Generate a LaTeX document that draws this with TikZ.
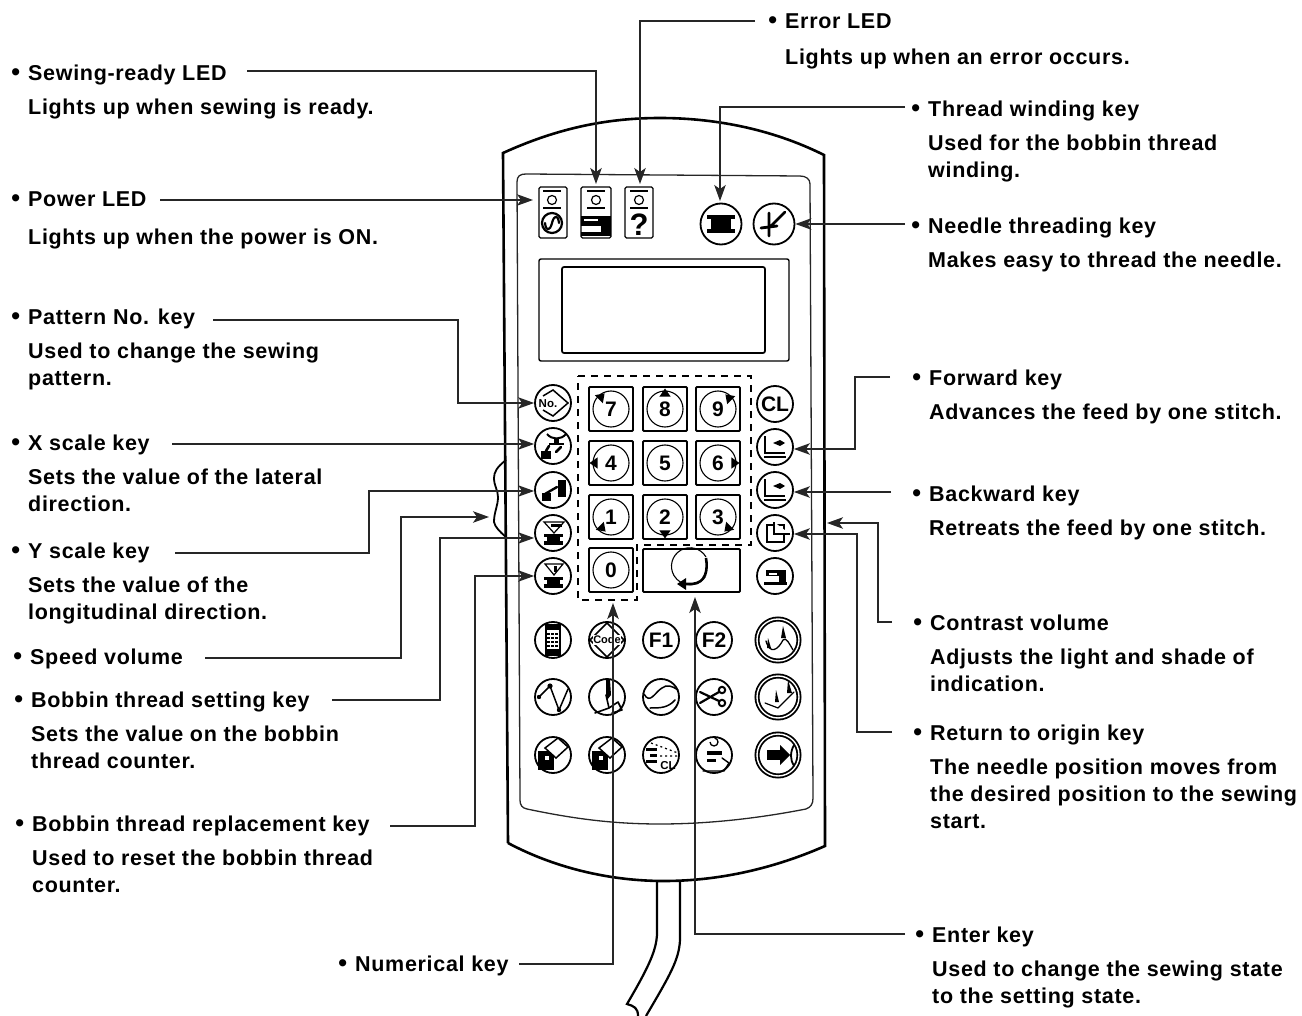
\documentclass[tikz,border=0pt]{standalone}
\usepackage{fontspec}
\setmainfont{Liberation Sans}
\newfontfamily\lblfam[LetterSpace=3.2]{Liberation Sans}
\usetikzlibrary{arrows.meta,calc,shapes.geometric}
\newcommand\lblfont{\fontsize{21.5}{27}\lblfam\bfseries}
\newcommand\hd[1]{\llap{\raisebox{-.5pt}{\fontsize{25}{25}\selectfont\textbullet}\hspace{8pt}}#1}
\newcommand\sep{\\[7pt]}
\tikzset{
 lbl/.style={anchor=north west,inner sep=0pt,align=left,font=\lblfont,yshift=-1.5pt,execute at begin node={\rule{0pt}{19pt}}},
 conn/.style={draw=black!85,line width=1.2pt,-{Stealth[length=16pt,width=11.5pt,inset=4pt]},line join=miter},
 body/.style={draw=black,line width=2.6pt},
 panel/.style={draw=black!85,line width=1.3pt},
 key/.style={circle,draw=black,line width=1.8pt,minimum size=36pt,inner sep=0pt,font=\fontsize{15}{15}\selectfont\bfseries},
 bigkey/.style={key,double,double distance=1.4pt,minimum size=42pt},
 numbox/.style={rectangle,draw=black,line width=1.8pt,rounded corners=1pt,minimum size=44pt,inner sep=0pt},
 numkey/.style={circle,draw=black,line width=1.1pt,minimum size=36pt,inner sep=0pt,font=\fontsize{21}{21}\selectfont\bfseries},
 ledbox/.style={rectangle,draw=black,line width=1.3pt,rounded corners=1.5pt,inner sep=0pt},
 ic/.style={line width=1.6pt,line cap=round,line join=round},
}
\newcommand\tri[3]{\fill[black] (#1,#2) ++(#3:6.5) -- ++(#3+145:10) -- ++(#3-90:11.4) -- cycle;}
\begin{document}
\begin{tikzpicture}[x=1pt,y=-1pt]
\useasboundingbox (0,0) rectangle (1302,1016);
% ---------- unit body
\draw[body] (508,843) -- (503,153) .. controls (560,127) and (610,118) .. (660,118) .. controls (712,118) and (770,128) .. (824,155) -- (825,846) .. controls (775,868) and (720,881) .. (664,881) .. controls (610,881) and (555,868) .. (508,843);
\draw[panel] (517,182) .. controls (517,176) and (520,174) .. (526,174) -- (800,176) .. controls (806,176) and (810,179) .. (810,184) -- (813,798) .. controls (813,804) and (811,807) .. (806,809) .. controls (760,818) and (710,824) .. (660,824) .. controls (610,824) and (570,818) .. (527,809) .. controls (522,808) and (520,805) .. (520,800) -- cycle;
% cable
\draw[body,line width=2.2pt] (657,881) -- (657,935) .. controls (656,950) and (650,965) .. (627,1004) .. controls (634,1006) and (638,1008) .. (638,1016);
\draw[body,line width=2.2pt] (680,881) -- (680,940) .. controls (679,960) and (670,975) .. (646,1016);
% bracket
\draw[body,line width=1.8pt] (506,460) .. controls (497,467) and (494,472) .. (494,478) .. controls (494,486) and (498,490) .. (498,497) .. controls (498,506) and (494,512) .. (494,522) .. controls (495,527) and (500,532) .. (506,537);
% ---------- LEDs
\node[ledbox,minimum width=28pt,minimum height=51pt] (led1) at (553,212.5) {};
\node[ledbox,minimum width=30pt,minimum height=51pt] (led2) at (596,212.5) {};
\node[ledbox,minimum width=28pt,minimum height=51pt] (led3) at (639,212.5) {};
\foreach \lx in {552,596,639}{
 \draw[line width=1.2pt] (\lx,200) circle (4.5);
 \draw[line width=1.1pt] (\lx-9,191) -- (\lx+9,191) (\lx-9,208) -- (\lx+9,208);
}
\draw[line width=2.2pt] (552,223) circle (10);
\draw[ic,line width=2.2pt] (545,223) .. controls (546,232) and (550,231) .. (552,223) .. controls (554,215) and (558,214) .. (559,223);
\fill (581,216) rectangle (611,226); \fill (601,226) rectangle (611,232); \fill (581,232) rectangle (611,236);
\fill[white] (584,219) rectangle (598,221);
\node[inner sep=0pt,font=\fontsize{31}{31}\selectfont\bfseries] (qm) at (639,225) {?};
% top round keys
\node[key,minimum size=41pt] (wind) at (721,224) {};
\node[key,minimum size=41pt] (needle) at (774,224) {};
\fill (707,215) rectangle (735,219); \fill (707,229) rectangle (735,233); \fill (711,219) rectangle (731,229);
\draw[ic,line width=2.8pt] (769,213) -- (769,236) (761,228) -- (777,226) (771,226) -- (785,212);
% display
\node[rectangle,draw=black,line width=1.4pt,rounded corners=2pt,minimum width=250pt,minimum height=102pt] (disp) at (664,310) {};
\node[rectangle,draw=black,line width=1.7pt,rounded corners=2pt,minimum width=203pt,minimum height=86pt] (screen) at (663.5,310) {};
% ---------- left key column
\node[key] (kno) at (553,403) {};
\node[key] (kx) at (553,446) {};
\node[key] (ky) at (553,490) {};
\node[key] (kb) at (553,533) {};
\node[key] (kr) at (553,576) {};
\draw[line width=1.5pt] (543,396) -- (553,390) -- (568,403) -- (553,416) -- (543,410);
\node[inner sep=0pt,font=\fontsize{11.5}{11.5}\selectfont\bfseries] (noT) at (548,404) {No.};
\draw[line width=2pt] (547,434) .. controls (552,440) and (561,440) .. (566,434); \fill (554,438) rectangle (559,443); \fill (549,443) rectangle (564,445);
\fill (541,451) rectangle (551,459); \draw[ic,line width=2.6pt] (546,451) -- (549,446) (556,452) -- (561,447);
\fill (558,480) rectangle (566,497); \draw[ic,line width=2.4pt] (545,494) -- (557,487); \fill (542,493) rectangle (551,501);
\draw[line width=1.2pt] (544,522) -- (564,522) -- (554,533) -- cycle; \fill (551,524) rectangle (562,527); \fill (544,534) rectangle (563,537); \fill (547,537) rectangle (560,541); \fill (544,541) rectangle (563,545);
\draw[line width=1.2pt] (545,564) -- (563,564) -- (554,575) -- cycle; \fill (554,566) rectangle (557,572); \fill (544,577) rectangle (563,580); \fill (547,580) rectangle (560,584); \fill (544,584) rectangle (563,588);
% ---------- right key column
\node[key,font=\fontsize{21}{21}\selectfont\bfseries] (kcl) at (775,404) {CL};
\node[key] (kf) at (775,447) {};
\node[key] (kbk) at (775,490) {};
\node[key] (ko) at (775,533) {};
\node[key] (kcs) at (775,576) {};
\foreach \ky in {447,490}{
 \draw[line width=2.4pt] (765,\ky-11) -- (765,\ky+6) -- (785,\ky+6);
 \draw[line width=1.1pt] (764,\ky+10) -- (786,\ky+10);
 \fill (773,\ky-4) -- (780,\ky-7) -- (785,\ky-4) -- (780,\ky-1) -- cycle;
}
\draw[line width=2pt] (767,525) rectangle (784,542);
\draw[line width=1.4pt,fill=white] (774,522) -- (774,534) -- (790,534);
\fill (766,570) rectangle (786,576); \fill (779,576) rectangle (786,582); \fill (764,582) rectangle (787,585); \fill[white] (769,573) rectangle (777,575);
% ---------- keypad
\draw[line width=1.4pt,dash pattern=on 7pt off 6pt] (578,376) -- (751,376) -- (751,545) -- (637,545) -- (637,600) -- (578,600) -- cycle;
\foreach \n/\x/\y in {7/611/409,8/665/409,9/718/409,4/611/463,5/665/463,6/718/463,1/611/517,2/665/517,3/718/517,0/611/570}{
 \node[numbox] (box\n) at (\x,\y) {};
 \node[numkey] (num\n) at (\x,\y) {\n};
}
\tri{600}{398}{-45}\tri{665}{395}{-90}\tri{730}{399}{-135}
\tri{596}{463}{180}\tri{733}{463}{0}
\tri{601}{527}{45}\tri{665}{532}{90}\tri{729}{527}{135}
\node[rectangle,draw=black,line width=1.8pt,rounded corners=1pt,minimum width=97pt,minimum height=43pt] (enter) at (691.5,570.5) {};
\draw[line width=2.6pt] (706,558) .. controls (708,570) and (706,583) .. (692,584) -- (682,584);
\fill (677,584) -- (686,578) -- (686,590) -- cycle;
\draw[line width=1.1pt] (706,557) arc (-30:-325:18.5 and 18.5);
% ---------- lower rows
\node[key] (b11) at (553,640) {};
\node[key] (b12) at (607,640) {};
\node[key,font=\fontsize{21}{21}\selectfont\bfseries] (b13) at (661,640) {F1};
\node[key,font=\fontsize{21}{21}\selectfont\bfseries] (b14) at (714,640) {F2};
\node[bigkey] (b15) at (778,640) {};
\node[key] (b21) at (553,697) {};
\node[key] (b22) at (607,697) {};
\node[key] (b23) at (661,697) {};
\node[key] (b24) at (714,697) {};
\node[bigkey] (b25) at (778,697) {};
\node[key] (b31) at (553,755) {};
\node[key] (b32) at (607,755) {};
\node[key] (b33) at (661,755) {};
\node[key] (b34) at (714,755) {};
\node[bigkey] (b35) at (778,755) {};
% calculator
\draw[line width=1.5pt] (546,625) rectangle (560,655); \fill (546,625) rectangle (560,630);\fill (546,649) rectangle (560,655);
\foreach \cy in {634,638,642,646}{\draw[line width=1.2pt,dash pattern=on 2.5pt off 1.5pt] (547,\cy) -- (560,\cy);}
% code
\draw[line width=1.5pt] (607,623) -- (624,640) -- (607,657) -- (590,640) -- cycle;
\node[fill=white,inner sep=.5pt,font=\fontsize{11}{11}\selectfont\bfseries] (codeT) at (607,640) {Code};
% bigkey 1
\draw[ic,line width=1.3pt] (766,641) .. controls (770,655) and (778,650) .. (783,640) .. controls (786,636) and (790,645) .. (793,650);
\fill (768,638) -- (771,648) -- (767,648) -- cycle; \fill (783,626) -- (786,638) -- (781,638) -- cycle;
% zigzag
\draw[ic,line width=1.5pt] (539,697) -- (550,686) -- (559,710) -- (568,689);
\fill (539,697) circle (2.2); \fill (550,686) circle (2.6); \fill (559,710) circle (2.2);
% needle key
\fill (606,680) -- (610,680) -- (611,695) -- (607,700) -- (606,695) -- cycle;
\draw[ic,line width=1.6pt] (606,695) -- (609,708) -- (595,713) (609,708) -- (618,702) -- (622,710) -- (612,713);
% curve key
\draw[ic,line width=1.5pt] (644,694) .. controls (650,705) and (655,692) .. (662,688) .. controls (667,684) and (672,686) .. (678,690);
\draw[ic,line width=1.5pt] (650,708) .. controls (660,708) and (668,708) .. (675,700);
% scissors
\draw[ic,line width=2.2pt] (700,692) -- (719,701) (700,703) -- (719,692);
\draw[line width=2pt] (722,703) circle (3.2); \draw[line width=2pt] (722,690) circle (3.2);
% bigkey 2
\draw[ic,line width=1.2pt] (765,703) -- (778,708) -- (794,692);
\fill (776,690) -- (779,702) -- (775,702) -- cycle; \fill (788,680) -- (792,693) -- (787,693) -- cycle;
% bobbin box keys
\foreach \bx in {553,607}{
 \fill (\bx-15,751) rectangle (\bx+1,770);
 \draw[line width=1.5pt,fill=white] (\bx-8,748) -- (\bx+5,738) -- (\bx+15,747) -- (\bx+3,758) -- cycle;
 \fill[white] (\bx-8,756) rectangle (\bx-4,760);
}
% clear key
\fill (646,748) rectangle (657,751); \fill (650,754) rectangle (657,757); \fill (646,760) rectangle (657,763);
\draw[line width=1.2pt,dash pattern=on 2pt off 3pt] (651,743) -- (678,753) (660,756) -- (678,756);
\node[inner sep=0pt,font=\fontsize{11.5}{11.5}\selectfont\bfseries] (clT) at (668,766) {CL};
% return key
\draw[line width=1.3pt] (710,742) arc (180:-80:4);
\fill (707,751) rectangle (722,755); \fill (707,759) rectangle (716,762);
\draw[ic,line width=1.4pt] (703,771) -- (724,771) -- (729,763) -- (722,758);
% final key
\fill (767,750) rectangle (780,760); \fill (780,745) -- (790,755) -- (780,765) -- cycle;
\draw[line width=1.8pt] (794,745) .. controls (790,752) and (790,760) .. (794,766);
% ---------- labels
\node[lbl] (tSew) at (28,63) {\hd{Sewing-ready LED}\sep Lights up when sewing is ready.};
\node[lbl] (tPow) at (28,190) {\hd{Power LED}\\[11pt] Lights up when the power is ON.};
\node[lbl] (tPat) at (28,307) {\hd{Pattern No. key}\sep Used to change the sewing\\pattern.};
\node[lbl] (tX) at (28,433) {\hd{X scale key}\sep Sets the value of the lateral\\direction.};
\node[lbl] (tY) at (28,541) {\hd{Y scale key}\sep Sets the value of the\\longitudinal direction.};
\node[lbl] (tSpd) at (30,643.5) {\hd{Speed volume}};
\node[lbl] (tBset) at (31,690) {\hd{Bobbin thread setting key}\sep Sets the value on the bobbin\\thread counter.};
\node[lbl] (tBrep) at (32,814) {\hd{Bobbin thread replacement key}\sep Used to reset the bobbin thread\\counter.};
\node[lbl] (tNum) at (355,950.5) {\hd{Numerical key}};
\node[lbl] (tErr) at (785,12) {\hd{Error LED}\\[9pt] Lights up when an error occurs.};
\node[lbl] (tWin) at (928,99) {\hd{Thread winding key}\sep Used for the bobbin thread\\winding.};
\node[lbl] (tNee) at (928,216) {\hd{Needle threading key}\sep Makes easy to thread the needle.};
\node[lbl] (tFor) at (929,368) {\hd{Forward key}\sep Advances the feed by one stitch.};
\node[lbl] (tBac) at (929,484) {\hd{Backward key}\sep Retreats the feed by one stitch.};
\node[lbl] (tCon) at (930,613) {\hd{Contrast volume}\sep Adjusts the light and shade of\\indication.};
\node[lbl] (tRet) at (930,723) {\hd{Return to origin key}\sep The needle position moves from\\the desired position to the sewing\\start.};
\node[lbl] (tEnt) at (932,925) {\hd{Enter key}\sep Used to change the sewing state\\to the setting state.};
% ---------- leader start points and corners
\coordinate (sSew) at (247,71);
\coordinate (sPow) at (160,200);
\coordinate (sPat) at (213,320);
\coordinate (cPat) at (458,403);
\coordinate (sX) at (172,444);
\coordinate (sY) at (175,553);
\coordinate (cY) at (369,491);
\coordinate (sSpd) at (205,658);
\coordinate (cSpd) at (401,517);
\coordinate (tipSpd) at (489,517);
\coordinate (sBs) at (332,700);
\coordinate (cBs) at (440,538);
\coordinate (sBr) at (390,826);
\coordinate (cBr) at (475,576);
\coordinate (sNum) at (519,964);
\coordinate (tipNum) at (613,603);
\coordinate (sEnt) at (905,934);
\coordinate (tipEnt) at (695,597);
\coordinate (sErr) at (755,21);
\coordinate (tipErr) at (640,184);
\coordinate (tipSew) at (596,184);
\coordinate (tipPow) at (533,200);
\coordinate (sWin) at (905,107);
\coordinate (tipWin) at (720,201);
\coordinate (sNee) at (905,224);
\coordinate (sFor) at (890,377);
\coordinate (cFor) at (855,449);
\coordinate (sBac) at (891,492);
\coordinate (sCon) at (892,622);
\coordinate (cCon) at (878,523);
\coordinate (tipCon) at (827,523);
\coordinate (sRet) at (892,732);
\coordinate (cRet) at (857,534);
% ---------- leaders
\draw[conn] (sSew) -| (tipSew);
\draw[conn] (sErr) -| (tipErr);
\draw[conn] (sPow) -- (tipPow);
\draw[conn] (sWin) -| (tipWin);
\draw[conn] (sNee) -- (needle.east);
\draw[conn] (sPat) -| (cPat) -- (kno.west);
\draw[conn] (sX) -- (sX -| kx.west);
\draw[conn] (sY) -| (cY) -- (cY -| ky.west);
\draw[conn] (sSpd) -| (cSpd) -- (tipSpd);
\draw[conn] (sBs) -| (cBs) -- (cBs -| kb.west);
\draw[conn] (sBr) -| (cBr) -- (kr.west);
\draw[conn] (sNum) -| (tipNum);
\draw[conn] (sEnt) -| (tipEnt);
\draw[conn] (sFor) -| (cFor) -- (cFor -| kf.east);
\draw[conn] (sBac) -- (sBac -| kbk.east);
\draw[conn] (sCon) -| (cCon) -- (tipCon);
\draw[conn] (sRet) -| (cRet) -- (cRet -| ko.east);
\end{tikzpicture}
\end{document}
